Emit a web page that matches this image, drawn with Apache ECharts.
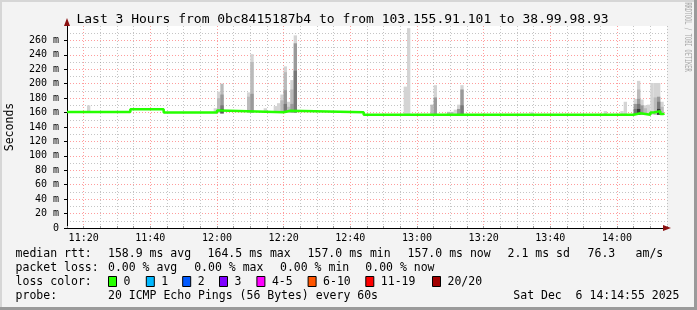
<!DOCTYPE html>
<html><head><meta charset="utf-8">
<script src="https://cdn.jsdelivr.net/npm/echarts@6/dist/echarts.min.js"></script>
<style>html,body{margin:0;padding:0;background:#f3f3f3}#c{width:697px;height:310px}</style>
</head><body><div id="c"></div>
<script>
// ---------- data ----------
const titleText = 'Last 3 Hours from 0bc8415187b4 to from 103.155.91.101 to 38.99.98.93';
const xMin = 675, xMax = 855;            // minutes of day: 11:15 .. 14:15
const yMin = 0, yMax = 280;              // ms
// median rtt (step changes): minute of day, ms
const medianTimes  = [675, 694, 704, 720, 721, 740, 742, 764, 845, 847, 850, 851, 853, 854];
const medianValues = [160.8, 164.5, 160.2, 163, 160.5, 162.5, 160.5, 157, 159, 157, 160, 162, 158, 157];
// smoke columns: minute, low ms, high ms, shade level (1 light .. 5 dark)
const smokeTimes  = [681, 719, 720, 720, 721, 721, 721, 721, 729, 729, 730, 730, 730, 734, 737, 738, 739, 739,
                     740, 740, 740, 740, 741, 741, 742, 742, 742, 743, 743, 743,
                     776, 777, 784, 785, 785, 789, 790, 791, 792, 792, 793, 793, 793, 814,
                     836, 841, 842, 845, 845, 845, 846, 846, 846, 846, 846, 847, 847, 848, 848, 849,
                     850, 851, 851, 852, 852, 852, 852, 853, 853];
const smokeLow    = [160, 160, 160, 160, 158, 158, 160, 160, 160, 160, 160, 160, 160, 160, 160, 160, 160, 160,
                     160, 160, 160, 160, 160, 160, 160, 160, 160, 160, 160, 160,
                     157, 157, 157, 157, 157, 157, 157, 157, 157, 157, 157, 157, 157, 157,
                     157, 157, 157, 157, 157, 157, 157, 157, 157, 157, 157, 157, 157, 157, 157, 157,
                     157, 157, 157, 157, 157, 157, 157, 157, 157];
const smokeHigh   = [170, 166, 189, 180, 200, 185, 170, 165, 188, 182, 241, 230, 186, 166, 169, 173, 185, 177,
                     224, 216, 191, 172, 175, 168, 205, 192, 172, 267, 256, 218,
                     196, 277, 171, 198, 181, 161, 161, 164, 171, 165, 198, 192, 170, 161,
                     162, 162, 175, 179, 172, 165, 204, 192, 179, 172, 165, 178, 170, 170, 166, 171,
                     201, 201, 181, 201, 182, 175, 165, 175, 168];
const smokeShade  = [1, 1, 1, 2, 2, 3, 4, 5, 1, 2, 1, 2, 3, 1, 1, 1, 1, 2,
                     1, 2, 3, 4, 1, 2, 1, 2, 3, 1, 3, 4,
                     1, 1, 2, 1, 3, 2, 2, 1, 1, 3, 1, 3, 4, 1,
                     1, 1, 1, 1, 3, 4, 1, 2, 3, 4, 5, 1, 3, 1, 2, 1,
                     1, 1, 2, 1, 3, 4, 5, 1, 2];
const shadeColors = ['', '#d4d4d4', '#bababa', '#9a9a9a', '#787878', '#3a3a3a'];
// legend texts
const statRow1 = ['median rtt:', '158.9 ms avg', '164.5 ms max', '157.0 ms min', '157.0 ms now', '2.1 ms sd', '76.3', 'am/s'];
const statRow2 = ['packet loss:', '0.00 % avg', '0.00 % max', '0.00 % min', '0.00 % now'];
const lossLabels = ['0', '1', '2', '3', '4-5', '6-10', '11-19', '20/20'];
const lossColors = ['#26ff00', '#00b8ff', '#0059ff', '#7e00ff', '#ff00ff', '#ff5500', '#ff0000', '#a10000'];
const probeRow = ['probe:', '20 ICMP Echo Pings (56 Bytes) every 60s', 'Sat Dec  6 14:14:55 2025'];

// ---------- layout ----------
const row1X = [15.6, 108, 207.6, 307.6, 407.6, 507.6, 587.6, 635.6];
const row2X = [15.6, 108, 194.2, 280, 365.3];
const lossBoxX = [108, 145.8, 182.2, 219, 256.4, 307.6, 365.3, 432];
const probeX = [15.6, 108, 513.3];
const rowY = [254, 268, 282, 296];
const MONO = '"DejaVu Sans Mono", monospace';

const chart = echarts.init(document.getElementById('c'), null, {renderer: 'canvas'});

const smokeData = smokeTimes.map((t, i) => [t, smokeLow[i], smokeHigh[i], smokeShade[i]])
  .sort((a, b) => a[3] - b[3]);
const medianData = medianTimes.map((t, i) => [t, medianValues[i]]);

function pad(n) { return (n < 10 ? '0' : '') + n; }

const graphics = [];
function txt(x, y, s, font, opts) {
  graphics.push(Object.assign({type: 'text', x: x, y: y, silent: true,
    style: {text: s, font: font, fill: '#000', textAlign: 'left', textVerticalAlign: 'middle'}}, opts || {}));
}
// frame
graphics.push({type: 'rect', shape: {x: 0, y: 0, width: 697, height: 2}, style: {fill: '#d6d6d6'}, silent: true});
graphics.push({type: 'rect', shape: {x: 0, y: 0, width: 2, height: 310}, style: {fill: '#d6d6d6'}, silent: true});
graphics.push({type: 'rect', shape: {x: 694, y: 0, width: 3, height: 310}, style: {fill: '#9a9a9a'}, silent: true});
graphics.push({type: 'rect', shape: {x: 0, y: 307, width: 697, height: 3}, style: {fill: '#9a9a9a'}, silent: true});
// title
txt(76.4, 19.5, titleText, '13px ' + MONO);
// y name
graphics.push({type: 'text', x: 10, y: 127, rotation: Math.PI / 2, silent: true,
  style: {text: 'Seconds', font: '11.5px ' + MONO, fill: '#000', textAlign: 'center', textVerticalAlign: 'middle'}});
// watermark
graphics.push({type: 'text', x: 687, y: 37, rotation: -Math.PI / 2, scaleX: 0.58, silent: true,
  style: {text: 'RRDTOOL / TOBI OETIKER', font: '9px ' + MONO, fill: '#a8a8a8', textAlign: 'center', textVerticalAlign: 'middle'}});
// arrows
graphics.push({type: 'polygon', shape: {points: [[663, 225], [671, 228], [663, 231]]}, style: {fill: '#8b1010'}, silent: true, z: 10});
graphics.push({type: 'polygon', shape: {points: [[64, 26], [67, 18], [70, 26]]}, style: {fill: '#8b1010'}, silent: true, z: 10});
// legend rows
const LF = '11.5px ' + MONO;
statRow1.forEach((s, i) => txt(row1X[i], rowY[0], s, LF));
statRow2.forEach((s, i) => txt(row2X[i], rowY[1], s, LF));
txt(15.6, rowY[2], 'loss color:', LF);
lossLabels.forEach((s, i) => {
  graphics.push({type: 'rect', shape: {x: lossBoxX[i] + 0.5, y: rowY[2] - 5.5, width: 8, height: 10},
    style: {fill: lossColors[i], stroke: '#000', lineWidth: 1}, silent: true});
  txt(lossBoxX[i] + 15.5, rowY[2], s, LF);
});
probeRow.forEach((s, i) => txt(probeX[i], rowY[3], s, LF));

const option = {
  backgroundColor: '#f3f3f3',
  animation: false,
  grid: {left: 67, top: 26, width: 600, height: 202, show: true, backgroundColor: '#ffffff', borderWidth: 0},
  xAxis: {
    type: 'value', min: xMin, max: xMax, interval: 5,
    axisLine: {show: true, lineStyle: {color: '#000', width: 1}},
    axisTick: {show: true, inside: true, length: 2, lineStyle: {color: '#999'}},
    axisLabel: {show: true, margin: 5, fontFamily: 'DejaVu Sans Mono', fontSize: 10, color: '#000',
      formatter: v => (v % 20 === 0) ? (pad(Math.floor(v / 60)) + ':' + pad(v % 60)) : ''},
    splitLine: {show: true, lineStyle: {color: ['rgba(140,140,140,0.5)', 'rgba(255,60,60,0.5)', 'rgba(140,140,140,0.5)', 'rgba(140,140,140,0.5)'], type: [1, 2], width: 1}}
  },
  yAxis: {
    type: 'value', min: yMin, max: yMax, interval: 20,
    axisLine: {show: true, lineStyle: {color: '#000', width: 1}},
    axisTick: {show: true, length: 3, lineStyle: {color: '#000'}},
    minorTick: {show: false, splitNumber: 2},
    minorSplitLine: {show: true, lineStyle: {color: 'rgba(140,140,140,0.5)', type: [1, 2], width: 1}},
    axisLabel: {margin: 8, fontFamily: 'DejaVu Sans Mono', fontSize: 10, color: '#000', showMaxLabel: false,
      formatter: v => v === 0 ? '0' : v + ' m'},
    splitLine: {show: true, showMaxLine: false, lineStyle: {color: 'rgba(255,60,60,0.5)', type: [1, 2], width: 1}}
  },
  graphic: graphics,
  series: [
    {
      type: 'custom', name: 'smoke', z: 2, silent: true,
      renderItem: function (params, api) {
        const t = api.value(0), lo = api.value(1), hi = api.value(2), s = api.value(3);
        const p1 = api.coord([t, hi]);
        const p2 = api.coord([t + 1, lo]);
        return {type: 'rect', shape: {x: p1[0], y: p1[1], width: p2[0] - p1[0], height: p2[1] - p1[1]},
          style: {fill: shadeColors[s]}};
      },
      encode: {x: 0, y: [1, 2]},
      data: smokeData
    },
    {
      type: 'line', name: 'median', z: 3, step: 'end', showSymbol: false, silent: true,
      lineStyle: {color: '#26ff00', width: 2.5},
      data: medianData
    }
  ]
};
chart.setOption(option);
</script>
</body></html>
